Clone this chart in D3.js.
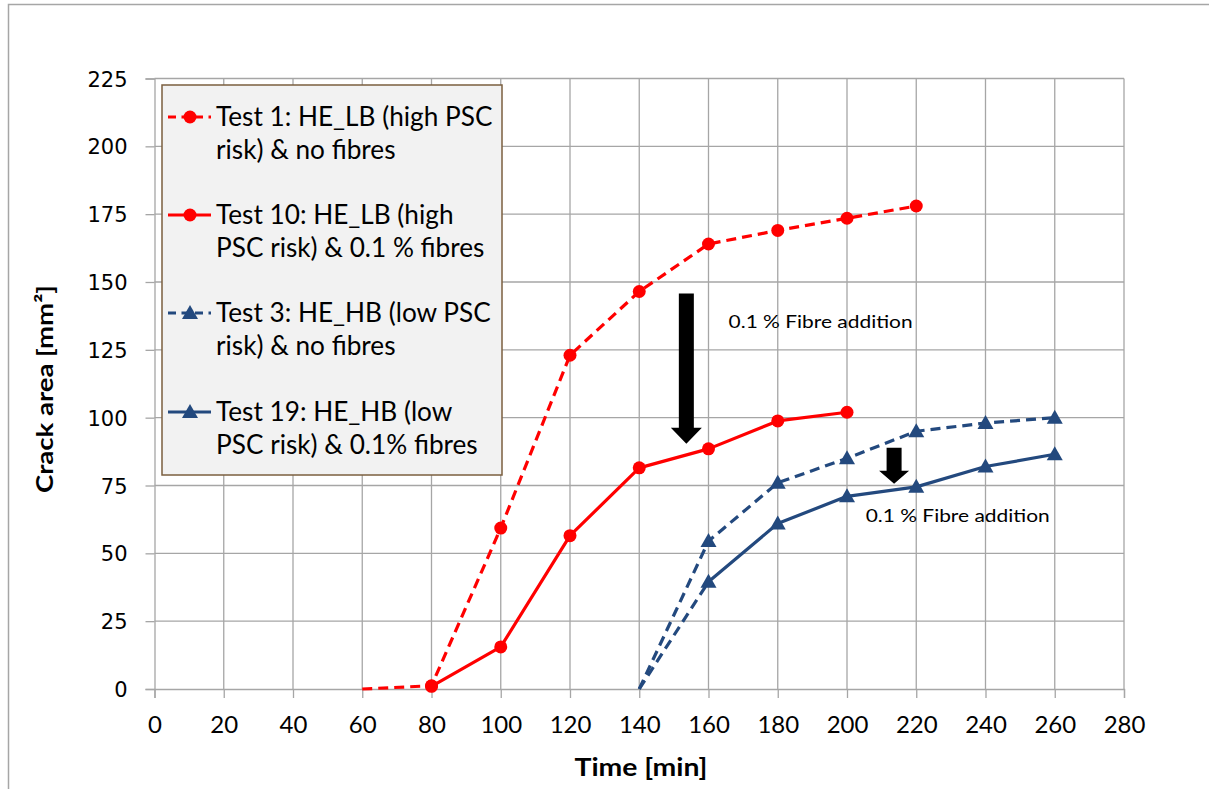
<!DOCTYPE html>
<html>
<head>
<meta charset="utf-8">
<script src="https://cdn.jsdelivr.net/npm/d3@7/dist/d3.min.js"></script>
<style>
  html, body { margin: 0; padding: 0; background: #fff; }
  svg { display: block; }
</style>
</head>
<body>
<svg id="chart" width="1209" height="789"></svg>
<script>
// Crack area development over time for four restrained-shrinkage tests
const xTicks = [0, 20, 40, 60, 80, 100, 120, 140, 160, 180, 200, 220, 240, 260, 280];
const yTicks = [0, 25, 50, 75, 100, 125, 150, 175, 200, 225];

const test1Time = [60, 80, 100, 120, 140, 160, 180, 200, 220];
const test1Area = [0, 1.2, 59.3, 123, 146.5, 164, 169, 173.5, 178];

const test10Time = [80, 100, 120, 140, 160, 180, 200];
const test10Area = [1, 15.5, 56.5, 81.5, 88.5, 98.8, 102];

const test3Time = [140, 160, 180, 200, 220, 240, 260];
const test3Area = [0, 54.5, 76, 85, 95, 98, 100];

const test19Time = [140, 160, 180, 200, 220, 240, 260];
const test19Area = [0, 39.5, 61, 71, 74.5, 82, 86.5];

const legendLabels = [
  ["Test 1: HE_LB (high PSC", "risk) & no fibres"],
  ["Test 10: HE_LB (high", "PSC risk) & 0.1 % fibres"],
  ["Test 3: HE_HB (low PSC", "risk) & no fibres"],
  ["Test 19: HE_HB (low", "PSC risk) & 0.1% fibres"]
];

const annotationText = "0.1 % Fibre addition";
// arrows: [time, start area, tip area]
const arrowBig = [153.6, 145.8, 90.4];
const arrowSmall = [213.6, 88.9, 75.6];
// annotation anchors: [time, area]
const labelBig = [165.8, 135.4];
const labelSmall = [205.4, 63.8];

const RED = "#ff0000";
const BLUE = "#23497e";

const series = [
  { time: test1Time, area: test1Area, color: RED, dashed: true, shape: "circle", hideFirstMarker: true, leadDashed: false },
  { time: test10Time, area: test10Area, color: RED, dashed: false, shape: "circle", hideFirstMarker: false, leadDashed: false },
  { time: test3Time, area: test3Area, color: BLUE, dashed: true, shape: "triangle", hideFirstMarker: true, leadDashed: false },
  { time: test19Time, area: test19Area, color: BLUE, dashed: false, shape: "triangle", hideFirstMarker: true, leadDashed: true }
];

const svg = d3.select("#chart");

// chart area frame
svg.append("rect")
  .attr("x", 8.5).attr("y", 4.5)
  .attr("width", 1230).attr("height", 820)
  .attr("fill", "#fff").attr("stroke", "#a6a6a6").attr("stroke-width", 1.5);

const x = d3.scaleLinear().domain([0, 280]).range([154.5, 1124]);
const y = d3.scaleLinear().domain([0, 225]).range([689, 78.5]);

const GRID = "#a6a6a6";

// grid
const grid = svg.append("g");
grid.selectAll("line.v").data(xTicks.slice(1)).join("line")
  .attr("x1", d => x(d)).attr("x2", d => x(d))
  .attr("y1", y(0)).attr("y2", y(225))
  .attr("stroke", GRID).attr("stroke-width", 1.3);
grid.selectAll("line.h").data(yTicks.slice(1)).join("line")
  .attr("x1", x(0)).attr("x2", x(280))
  .attr("y1", d => y(d)).attr("y2", d => y(d))
  .attr("stroke", GRID).attr("stroke-width", 1.3);

// axes
const xAxis = svg.append("g")
  .attr("transform", `translate(0,${y(0)})`)
  .call(d3.axisBottom(x).tickValues(xTicks).tickSize(9).tickPadding(18).tickFormat(d3.format("d")));
const yAxis = svg.append("g")
  .attr("transform", `translate(${x(0)},0)`)
  .call(d3.axisLeft(y).tickValues(yTicks).tickSize(9).tickPadding(18).tickFormat(d3.format("d")));

[xAxis, yAxis].forEach(a => {
  a.select(".domain").attr("stroke", GRID).attr("stroke-width", 1.3);
  a.selectAll(".tick line").attr("stroke", GRID).attr("stroke-width", 1.3);
});
xAxis.selectAll(".tick text")
  .attr("font-family", "Lato, sans-serif").attr("font-size", 24).attr("fill", "#000");
yAxis.selectAll(".tick text")
  .attr("font-family", "'DejaVu Sans', sans-serif").attr("font-size", 21).attr("fill", "#000")
  .attr("dy", "0.36em");

// axis titles
svg.append("text")
  .attr("x", 641).attr("y", 776)
  .attr("text-anchor", "middle")
  .attr("font-family", "Lato, sans-serif").attr("font-weight", "bold").attr("font-size", 24)
  .attr("textLength", 133).attr("lengthAdjust", "spacingAndGlyphs")
  .text("Time [min]");
svg.append("text")
  .attr("transform", "translate(53,389) rotate(-90)")
  .attr("text-anchor", "middle")
  .attr("font-family", "Lato, sans-serif").attr("font-weight", "bold").attr("font-size", 23)
  .attr("textLength", 208).attr("lengthAdjust", "spacingAndGlyphs")
  .text("Crack area [mm²]");

// series
const dashArr = "10,6";
function drawMarker(g, shape, color, cx, cy) {
  if (shape === "circle") {
    g.append("circle").attr("cx", cx).attr("cy", cy).attr("r", 6.5).attr("fill", color);
  } else {
    const s = 8;
    g.append("path")
      .attr("d", `M${cx},${cy - s}L${cx + s},${cy + s * 0.75}L${cx - s},${cy + s * 0.75}Z`)
      .attr("fill", color);
  }
}

const line = d3.line().x(d => x(d[0])).y(d => y(d[1]));
const plot = svg.append("g");
series.forEach(s => {
  const pts = s.time.map((t, i) => [t, s.area[i]]);
  if (s.leadDashed) {
    plot.append("path").datum(pts.slice(0, 2)).attr("d", line)
      .attr("fill", "none").attr("stroke", s.color).attr("stroke-width", 3.2)
      .attr("stroke-dasharray", dashArr);
    plot.append("path").datum(pts.slice(1)).attr("d", line)
      .attr("fill", "none").attr("stroke", s.color).attr("stroke-width", 3.2)
      .attr("stroke-linejoin", "round");
  } else {
    plot.append("path").datum(pts).attr("d", line)
      .attr("fill", "none").attr("stroke", s.color).attr("stroke-width", 3.2)
      .attr("stroke-linejoin", "round")
      .attr("stroke-dasharray", s.dashed ? dashArr : null);
  }
  const mg = plot.append("g");
  pts.forEach((p, i) => {
    if (i === 0 && s.hideFirstMarker) return;
    drawMarker(mg, s.shape, s.color, x(p[0]), y(p[1]));
  });
});

// arrows and annotations
function drawArrow(a, shaftW, headW, headL) {
  const cx = x(a[0]), y0 = y(a[1]), y1 = y(a[2]);
  const hy = y1 - headL;
  svg.append("path")
    .attr("d", `M${cx - shaftW / 2},${y0}L${cx + shaftW / 2},${y0}L${cx + shaftW / 2},${hy}` +
               `L${cx + headW / 2},${hy}L${cx},${y1}L${cx - headW / 2},${hy}L${cx - shaftW / 2},${hy}Z`)
    .attr("fill", "#000");
}
drawArrow(arrowBig, 15, 31, 16);
drawArrow(arrowSmall, 15, 30, 13);

[labelBig, labelSmall].forEach(l => {
  svg.append("text")
    .attr("x", x(l[0])).attr("y", y(l[1]))
    .attr("dy", "0.35em")
    .attr("font-family", "Lato, sans-serif").attr("font-size", 18)
    .attr("textLength", 184).attr("lengthAdjust", "spacingAndGlyphs")
    .text(annotationText);
});

// legend
const lg = svg.append("g");
lg.append("rect")
  .attr("x", 162).attr("y", 85).attr("width", 340).attr("height", 390)
  .attr("fill", "#f2f2f2").attr("stroke", "#7b5f3f").attr("stroke-width", 1.5);
const entryY = [117, 215, 313, 412];
series.forEach((s, i) => {
  const cy = entryY[i];
  lg.append("line")
    .attr("x1", 168).attr("x2", 211).attr("y1", cy).attr("y2", cy)
    .attr("stroke", s.color).attr("stroke-width", 3.2)
    .attr("stroke-dasharray", s.dashed ? "8,5.5" : null);
  drawMarker(lg, s.shape, s.color, 190, cy);
  legendLabels[i].forEach((txt, j) => {
    lg.append("text")
      .attr("x", 216).attr("y", cy + j * 32.5)
      .attr("dy", "0.36em")
      .attr("font-family", "Lato, sans-serif").attr("font-size", 26.2)
      .attr("fill", "#000")
      .text(txt);
  });
});
</script>
</body>
</html>
